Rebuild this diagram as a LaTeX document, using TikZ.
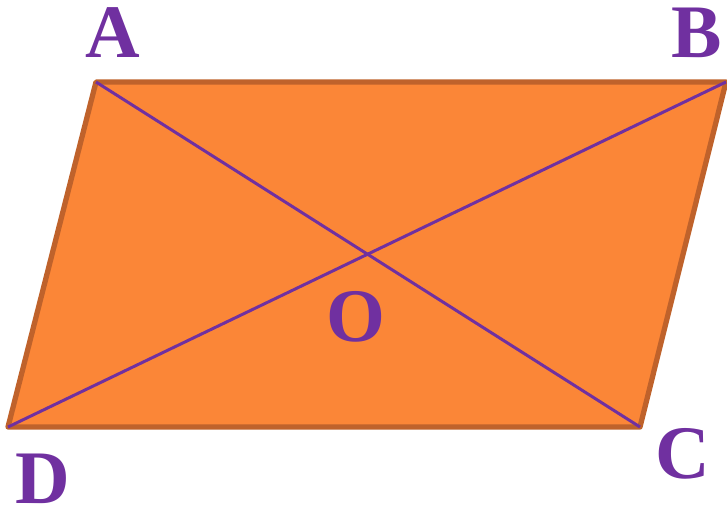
\documentclass[tikz,border=0pt]{standalone}
\usepackage{xcolor}
\usepackage{fontspec}
\setmainfont{Liberation Serif}
\usepackage{tikz}
\usetikzlibrary{calc}
\definecolor{ParaOrange}{HTML}{FB8637}
\definecolor{ParaEdge}{HTML}{BF622B}
\definecolor{ParaPurple}{HTML}{7030A0}

\begin{document}
\begin{tikzpicture}[x=0.01cm, y=-0.01cm, every node/.style={font=\bfseries\fontsize{21.5}{24}\selectfont, text=ParaPurple, inner sep=0pt}, side/.style={draw=ParaEdge, line width=1.5pt, line join=round, fill=ParaOrange}, diag/.style={draw=ParaPurple, line width=0.85pt}]
\useasboundingbox (0,0) rectangle (727,512);
\coordinate (a) at (96,82); \coordinate (b) at (726,82); \coordinate (c) at (640,427); \coordinate (d) at (8,427);
\path[side] (a)--(b)--(c)--(d)--cycle;
\draw[diag] (a)--(c); \draw[diag] (b)--(d);
\node (la) at (113,33) {A};
\node (lb) at (697,33) {B};
\node (lc) at (683,454) {C};
\node (ld) at (43,479) {D};
\node (lo) at (356,317) {O};
\end{tikzpicture}
\end{document}
